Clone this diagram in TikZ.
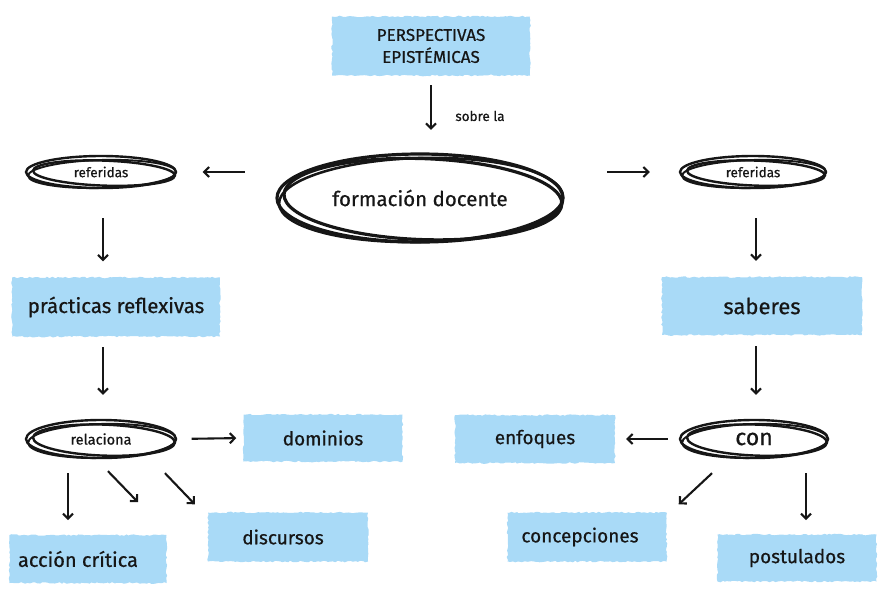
\documentclass[tikz,border=0pt]{standalone}
\usepackage{fontspec}
\setmainfont{Fira Sans}[FakeBold=0.6]
\usetikzlibrary{arrows.meta,shapes.geometric,decorations.pathmorphing,calc}
\definecolor{boxblue}{HTML}{A9DAF7}
\definecolor{ink}{HTML}{161616}
\newcommand{\scrib}[4]{%
 \draw[ink, line width=#4] (#1.center) ellipse [x radius=#2, y radius=#3];
 \draw[ink, line width=#4, rotate around={-2:(#1.center)}] ([shift={(3,1)}]#1.center) ellipse [x radius=#2-4, y radius=#3-3.5];
 \draw[ink, line width=0.8*#4, rotate around={1.5:(#1.center)}] ([shift={(1,2)}]#1.center) ellipse [x radius=#2-1, y radius=#3-2];
}
\tikzset{
  tape/.style={fill=boxblue, text=ink, inner sep=0pt, align=center,
    decorate, decoration={random steps, segment length=2.5pt, amplitude=0.8pt}},
  loopnode/.style={ellipse, inner sep=0pt, text=ink},
  arr/.style={ink, line width=2.1pt, -{Straight Barb[length=5pt,width=10pt]}},
  lbl/.style={text=ink, inner sep=0pt},
}
\begin{document}
\begin{tikzpicture}[x=1pt,y=-1pt]
\useasboundingbox (0,0) rectangle (881,592);
% tape boxes
\node[tape, minimum width=198, minimum height=59, font=\fontsize{17}{22}\selectfont] (persp) at (431,46) {PERSPECTIVAS\\EPISTÉMICAS};
\node[tape, minimum width=208, minimum height=59, font=\fontsize{20.5}{22}\selectfont] (prac) at (116,307) {prácticas reflexivas};
\node[tape, minimum width=200, minimum height=58, font=\fontsize{22}{24}\selectfont] (sab) at (762,306) {saberes};
\node[tape, minimum width=159, minimum height=47, font=\fontsize{19}{20}\selectfont] (dom) at (323,438) {dominios};
\node[tape, minimum width=157, minimum height=48, font=\fontsize{20}{20}\selectfont] (acc) at (88,559) {\hspace*{-20pt}acción crítica};
\node[tape, minimum width=160, minimum height=49, font=\fontsize{19}{20}\selectfont] (disc) at (288,537) {\hspace*{-10pt}discursos};
\node[tape, minimum width=160, minimum height=48, font=\fontsize{19}{20}\selectfont] (enf) at (535,439) {enfoques};
\node[tape, minimum width=159, minimum height=49, font=\fontsize{19}{20}\selectfont] (conc) at (587,537) {\hspace*{-14pt}concepciones};
\node[tape, minimum width=159, minimum height=47, font=\fontsize{19}{20}\selectfont] (post) at (797,558) {postulados};
% ellipse nodes
\node[loopnode, minimum width=290, minimum height=92, font=\fontsize{20.5}{22}\selectfont] (form) at (420,198) {formación docente};
\node[loopnode, minimum width=153, minimum height=36, font=\fontsize{13.5}{15}\selectfont] (refL) at (101,172) {referidas};
\node[loopnode, minimum width=150, minimum height=36, font=\fontsize{13.5}{15}\selectfont] (refR) at (753,172) {referidas};
\node[loopnode, minimum width=153, minimum height=42, font=\fontsize{14.5}{16}\selectfont] (rel) at (101,439) {relaciona};
\node[loopnode, minimum width=152, minimum height=42, font=\fontsize{23}{24}\selectfont] (con) at (754,439) {con};
\scrib{form}{143}{44}{3.2pt}
\scrib{refL}{75}{16}{2.4pt}
\scrib{refR}{73}{16}{2.4pt}
\scrib{rel}{75}{19}{2.4pt}
\scrib{con}{74}{19}{2.4pt}
% label
\node[lbl, font=\fontsize{13.5}{15}\selectfont] (sobre) at (480,116) {sobre la};
% connectors
\draw[arr, shorten <=9.5pt, shorten >=22pt] (persp.south) -- (persp.south |- form.north);
\draw[arr, shorten <=30pt, shorten >=25pt] (form.west |- refL.east) -- (refL.east);
\draw[arr, shorten <=42pt, shorten >=28pt] (form.east |- refR.west) -- (refR.west);
\draw[arr, shorten <=28pt, shorten >=16pt] ([xshift=2]refL.south) -- ([xshift=2]refL.south |- prac.north);
\draw[arr, shorten <=10.5pt, shorten >=23pt] ([xshift=2]rel.north |- prac.south) -- ([xshift=2]rel.north);
\draw[arr, shorten <=14pt, shorten >=7pt] (rel.east) -- (dom.west);
\draw[arr] ($(rel.south)+(-33,13)$) -- ($(rel.south)+(-33,60)$);
\coordinate (midend) at ($(rel.south)+(37,42)$);
\draw[arr] ($(rel.south)+(7,11)$) -- (midend);
\draw[arr] ($(rel.south)+(64,13)$) -- ($(disc.north west)+(-13,-8)$);
\draw[arr, shorten <=28pt, shorten >=16pt] ([xshift=3]refR.south) -- ([xshift=3]refR.south |- sab.north);
\draw[arr, shorten <=11pt, shorten >=23pt] ([xshift=2]con.north |- sab.south) -- ([xshift=2]con.north);
\draw[arr, shorten <=10pt, shorten >=11pt] (con.west) -- (enf.east);
\draw[arr] ($(con.south)+(-42,13)$) -- ($(conc.north east)+(12,-8)$);
\draw[arr] ($(con.south)+(52,13)$) -- ($(con.south)+(52,60)$);
\end{tikzpicture}
\end{document}
